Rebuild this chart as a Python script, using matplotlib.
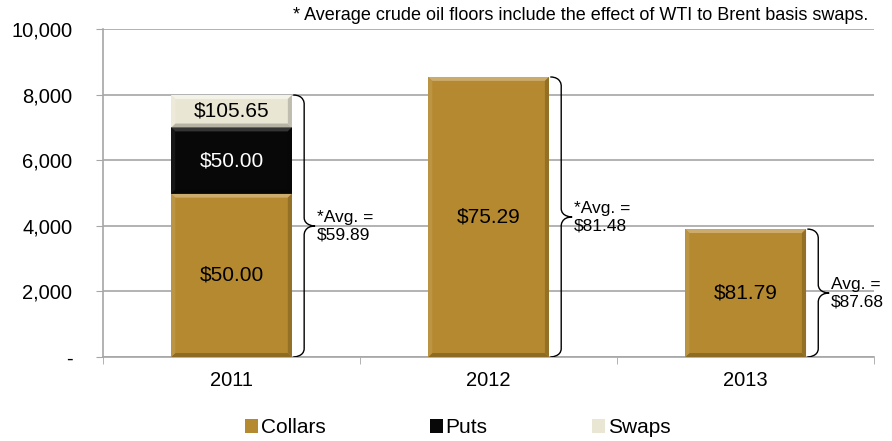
import numpy as np
import matplotlib.pyplot as plt
from matplotlib.path import Path
from matplotlib.patches import PathPatch, Polygon
from matplotlib.ticker import FuncFormatter
from matplotlib.colors import to_rgb

plt.rcParams['font.family'] = ['Liberation Sans', 'DejaVu Sans']

# data
years = ['2011', '2012', '2013']
collars = [4980, 8540, 3900]
puts = [2020, 0, 0]
swaps = [990, 0, 0]
collar_prices = ['$50.00', '$75.29', '$81.79']
put_prices = ['$50.00', '', '']
swap_prices = ['$105.65', '', '']
avg_labels = ['*Avg. =\n$59.89', '*Avg. =\n$81.48', 'Avg. =\n$87.68']
note = '* Average crude oil floors include the effect of WTI to Brent basis swaps.'

gold = '#B5892F'
black = '#080808'
cream = '#E9E6D3'

fig = plt.figure(figsize=(8.92, 4.41), dpi=100)
ax = fig.add_axes([0.1155, 0.1905, 0.8645, 0.7435])

x = np.arange(len(years))
w = 0.47
collars = np.array(collars)
puts = np.array(puts)
swaps = np.array(swaps)


def mix(c, other, t):
    c = np.array(to_rgb(c))
    o = np.array(to_rgb(other))
    return tuple(c * (1 - t) + o * t)


# bevelled look, like the office chart style
def bevel(ax, xc, y0, h, color, top_light):
    if h <= 0:
        return
    xl, xr = xc - w / 2, xc + w / 2
    yt = y0 + h
    bx, by = 0.016, min(120, h / 3)
    ax.add_patch(Polygon([(xl, yt), (xr, yt), (xr - bx, yt - by), (xl + bx, yt - by)],
                         closed=True, color=mix(color, 'white', top_light), lw=0, zorder=3.5))
    ax.add_patch(Polygon([(xl, y0), (xr, y0), (xr - bx, y0 + by), (xl + bx, y0 + by)],
                         closed=True, color=mix(color, 'black', 0.22), lw=0, zorder=3.5))
    ax.add_patch(Polygon([(xl, y0), (xl, yt), (xl + bx, yt - by), (xl + bx, y0 + by)],
                         closed=True, color=mix(color, 'white', top_light / 3), lw=0, zorder=3.5))
    ax.add_patch(Polygon([(xr, y0), (xr, yt), (xr - bx, yt - by), (xr - bx, y0 + by)],
                         closed=True, color=mix(color, 'black', 0.18), lw=0, zorder=3.5))


ax.bar(x, collars, w, color=gold, linewidth=0, label='Collars', zorder=3)
ax.bar(x, puts, w, bottom=collars, color=black, linewidth=0, label='Puts', zorder=3)
ax.bar(x, swaps, w, bottom=collars + puts, color=cream, linewidth=0, label='Swaps', zorder=3)

for i in range(len(years)):
    bevel(ax, x[i], 0, collars[i], gold, 0.3)
    bevel(ax, x[i], collars[i], puts[i], black, 0.18)
    bevel(ax, x[i], collars[i] + puts[i], swaps[i], cream, 0.5)

# value labels inside the segments
for i in range(len(years)):
    ax.text(x[i], collars[i] / 2, collar_prices[i], ha='center', va='center', fontsize=15, color='black', zorder=4)
    if puts[i] > 0:
        ax.text(x[i], collars[i] + puts[i] / 2, put_prices[i], ha='center', va='center', fontsize=15, color='white', zorder=4)
    if swaps[i] > 0:
        ax.text(x[i], collars[i] + puts[i] + swaps[i] / 2, swap_prices[i], ha='center', va='center', fontsize=15, color='black', zorder=4)


# curly braces to the right of each bar
def brace(ax, x0, y0, y1, bw, r):
    xm = x0 + bw / 2
    ym = (y0 + y1) / 2
    verts = [(x0, y1), (xm, y1), (xm, y1 - r), (xm, y1 - r),
             (xm, ym + r),
             (xm, ym), (x0 + bw, ym), (x0 + bw, ym),
             (xm, ym), (xm, ym - r), (xm, ym - r),
             (xm, y0 + r),
             (xm, y0), (x0, y0), (x0, y0)]
    codes = [Path.MOVETO, Path.CURVE4, Path.CURVE4, Path.CURVE4,
             Path.LINETO,
             Path.CURVE4, Path.CURVE4, Path.CURVE4,
             Path.CURVE4, Path.CURVE4, Path.CURVE4,
             Path.LINETO,
             Path.CURVE4, Path.CURVE4, Path.CURVE4]
    ax.add_patch(PathPatch(Path(verts, codes), fill=False, lw=1.0, color='black', zorder=5))


totals = collars + puts + swaps
for i in range(len(years)):
    x0 = x[i] + w / 2 + 0.005
    brace(ax, x0, 0, totals[i], 0.085, 260)
    ax.text(x0 + 0.092, totals[i] / 2, avg_labels[i], ha='left', va='center', fontsize=12.5,
            linespacing=1.2, zorder=5)

ax.set_xlim(-0.5, 2.5)
ax.set_ylim(0, 10000)
ax.set_yticks(np.arange(0, 10001, 2000))
ax.yaxis.set_major_formatter(FuncFormatter(lambda v, p: '-' if v == 0 else f'{int(v):,}'))
ax.set_xticks(x)
ax.set_xticklabels(years)
ax.set_xticks([-0.5, 0.5, 1.5, 2.5], minor=True)
ax.tick_params(axis='x', which='major', length=0, labelsize=14.5, pad=10)
ax.tick_params(axis='x', which='minor', length=5, color='#A6A6A6', direction='out')
ax.tick_params(axis='y', length=5, color='#A6A6A6', labelsize=14.5, pad=17)
ax.grid(axis='y', color='#A6A6A6', lw=1.2, zorder=0)
for s in ['top', 'right']:
    ax.spines[s].set_visible(False)
for s in ['left', 'bottom']:
    ax.spines[s].set_color('#A6A6A6')
    ax.spines[s].set_linewidth(1.2)

fig.text(0.973, 0.985, note, ha='right', va='top', fontsize=13)

fig.legend(loc='center', bbox_to_anchor=(0.513, 0.03), ncol=3, frameon=False, fontsize=15,
           handlelength=0.62, handleheight=0.62, handletextpad=0.15, columnspacing=5.0,
           borderpad=0, borderaxespad=0)

fig.savefig('out.png', dpi=100)
